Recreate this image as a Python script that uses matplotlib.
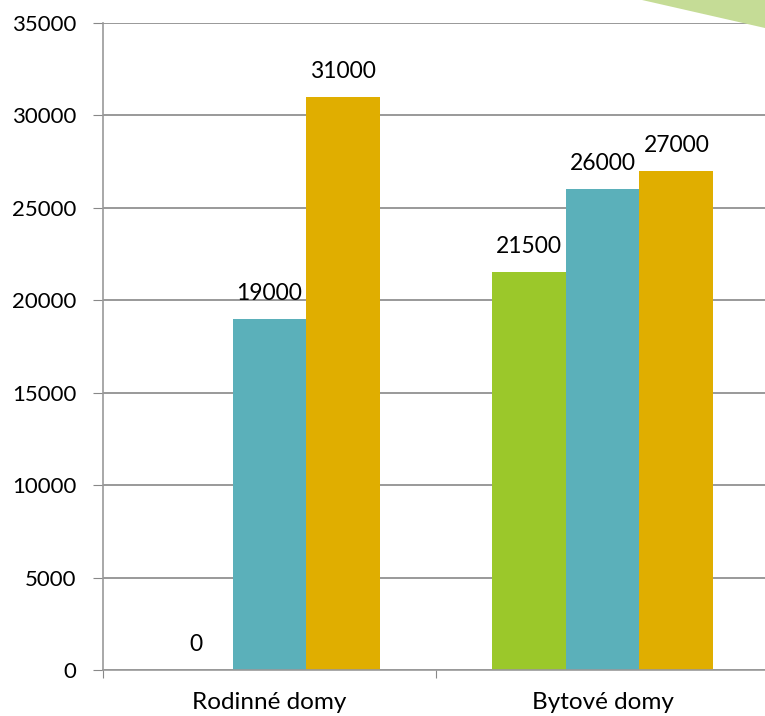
import numpy as np
import matplotlib.pyplot as plt
from matplotlib.patches import Polygon

categories = ['Rodinné domy', 'Bytové domy']
series_green = [0, 21500]
series_teal = [19000, 26000]
series_gold = [31000, 27000]
y_ticks = [0, 5000, 10000, 15000, 20000, 25000, 30000, 35000]

plt.rcParams['font.family'] = ['Lato', 'DejaVu Sans']

W, H = 765, 716
fig = plt.figure(figsize=(W / 100, H / 100), dpi=100)

# decorative triangle in the top right corner
tri = Polygon([[642 / W, 1], [1, 1], [1, 1 - 28 / H]], closed=True,
              transform=fig.transFigure, facecolor='#c5dc96', edgecolor='none', zorder=0)
fig.patches.append(tri)

# axes box in pixels: left 103, right 769, top 22.7, bottom 670
ax = fig.add_axes([103 / W, 1 - 670 / H, (769 - 103) / W, (670 - 22.7) / H])
ax.patch.set_alpha(0)

x = np.arange(len(categories))
bw = 0.222
colors = ['#9bc82a', '#5bb0ba', '#e0ae00']
for i, (vals, c) in enumerate(zip([series_green, series_teal, series_gold], colors)):
    xs = x + (i - 1) * bw
    ax.bar(xs, vals, width=bw, color=c, zorder=3)
    for xi, v in zip(xs, vals):
        ax.annotate(str(v), (xi, v), xytext=(0, 19), textcoords='offset pixels',
                    ha='center', va='baseline', fontsize=16.5, color='#000000')

ax.set_xlim(-0.5, 1.5)
ax.set_ylim(0, 35000)
ax.set_yticks(y_ticks)
ax.set_yticklabels([str(t) for t in y_ticks], fontsize=16)
ax.yaxis.grid(True, color='#888888', linewidth=1.2, zorder=1)

ax.set_xticks([-0.5, 0.5, 1.5])
ax.set_xticklabels([])
ax.set_xticks(x, minor=True)
ax.set_xticklabels(categories, minor=True, fontsize=17.5)
ax.tick_params(axis='x', which='minor', length=0, pad=16)
ax.tick_params(axis='x', which='major', length=6, color='#888888')
ax.tick_params(axis='y', length=7, color='#888888', pad=12)

for s in ['top', 'right']:
    ax.spines[s].set_visible(False)
for s in ['left', 'bottom']:
    ax.spines[s].set_color('#999999')
    ax.spines[s].set_linewidth(1.2)
ax.spines['bottom'].set_zorder(4)

fig.savefig('out.png', dpi=100)
